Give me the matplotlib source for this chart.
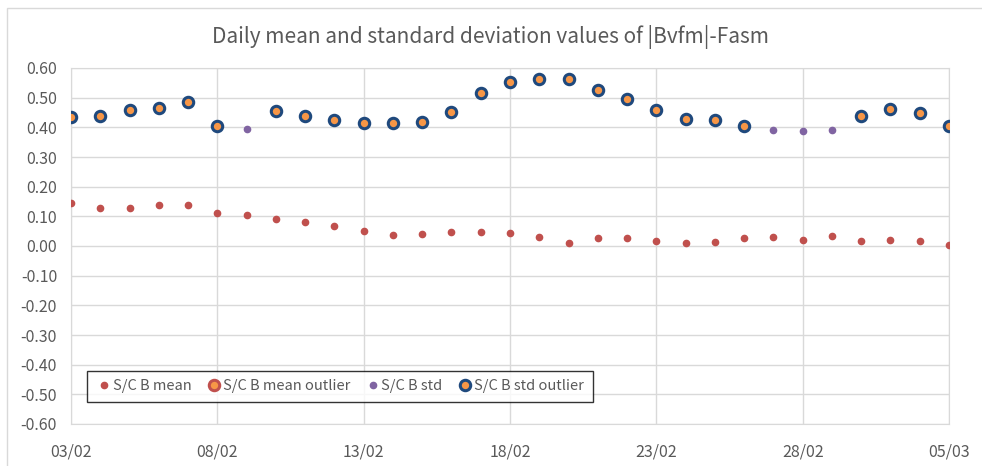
import matplotlib
matplotlib.use('Agg')
import matplotlib.pyplot as plt
import matplotlib.dates as mdates
from matplotlib.patches import Rectangle
import pandas as pd
import numpy as np

plt.rcParams['font.family'] = ['Noto Sans CJK KR', 'DejaVu Sans']

# daily values, 03/02 .. 05/03
dates = pd.date_range('2021-02-03', '2021-03-05', freq='D')

mean_vals = [0.145, 0.129, 0.129, 0.138, 0.138, 0.111, 0.104, 0.090, 0.080, 0.066,
             0.049, 0.036, 0.039, 0.046, 0.046, 0.043, 0.029, 0.009, 0.026, 0.026,
             0.016, 0.009, 0.012, 0.026, 0.029, 0.019, 0.033, 0.016, 0.019, 0.016,
             0.002]
std_vals = [0.435, 0.439, 0.457, 0.466, 0.487, 0.404, 0.394, 0.455, 0.439, 0.425,
            0.413, 0.413, 0.419, 0.452, 0.517, 0.552, 0.562, 0.562, 0.525, 0.494,
            0.460, 0.429, 0.426, 0.406, 0.391, 0.388, 0.391, 0.439, 0.461, 0.447,
            0.406]
# days flagged as outliers (index into dates)
std_outlier_idx = [0, 1, 2, 3, 4, 5, 7, 8, 9, 10, 11, 12, 13, 14, 15, 16, 17, 18, 19,
                   20, 21, 22, 23, 27, 28, 29, 30]
mean_outlier_idx = []

tick_dates = ['2021-02-03', '2021-02-08', '2021-02-13', '2021-02-18',
              '2021-02-23', '2021-02-28', '2021-03-05']

grey_txt = '#595959'
grid_c = '#D9D9D9'

fig = plt.figure(figsize=(9.82, 4.66), dpi=100)
W, H = 982, 466
ax = fig.add_axes([71 / W, 1 - 424 / H, (949 - 71) / W, (424 - 68) / H])

# outer chart border
fig.patches.append(Rectangle((7 / W, -0.1), 1.2, 1 - 8 / H + 0.1, transform=fig.transFigure,
                             fill=False, edgecolor='#D9D9D9', linewidth=1))

mean_out = [mean_vals[i] for i in mean_outlier_idx]
std_out = [std_vals[i] for i in std_outlier_idx]

ax.plot(dates, mean_vals, 'o', ls='none', color='#C0504D', ms=4.5, label='S/C B mean', zorder=3)
ax.plot(dates[mean_outlier_idx], mean_out,
        'o', ls='none', mfc='#F79646', mec='#C0504D', ms=7.5, mew=2.2,
        label='S/C B mean outlier', zorder=4)
ax.plot(dates, std_vals, 'o', ls='none', color='#8064A2', ms=4.5, label='S/C B std', zorder=3)
ax.plot(dates[std_outlier_idx], std_out,
        'o', ls='none', mfc='#F79646', mec='#1F497D', ms=7.5, mew=2.2,
        label='S/C B std outlier', zorder=4)

ax.set_xlim(dates[0], dates[-1])
ax.set_ylim(-0.6, 0.6)
ax.set_yticks(np.round(np.arange(-0.6, 0.61, 0.1), 2))
ax.yaxis.set_major_formatter(plt.FuncFormatter(lambda v, p: f'{round(v, 2) + 0.0:.2f}'))
ax.set_xticks(pd.to_datetime(tick_dates))
ax.xaxis.set_major_formatter(mdates.DateFormatter('%d/%m'))

ax.grid(True, color=grid_c, linewidth=1)
ax.set_axisbelow(True)
for s in ax.spines.values():
    s.set_color(grid_c)
ax.tick_params(length=0, labelsize=11.5, colors=grey_txt, pad=10)
ax.tick_params(axis='x', pad=14)

fig.text(0.5, 1 - 37 / H, 'Daily mean and standard deviation values of |Bvfm|-Fasm',
         ha='center', va='center', fontsize=15, color=grey_txt)

leg = ax.legend(loc='lower left', bbox_to_anchor=(16 / 878, 22 / 356), ncol=4,
                frameon=True, fancybox=False, handletextpad=0.05, fontsize=10.5,
                columnspacing=1.0, borderpad=0.6, borderaxespad=0, markerscale=1.0,
                handlelength=1.1)
leg.get_frame().set_edgecolor('black')
leg.get_frame().set_linewidth(1)
for t in leg.get_texts():
    t.set_color(grey_txt)

fig.savefig('out.png', dpi=100, facecolor='white')
